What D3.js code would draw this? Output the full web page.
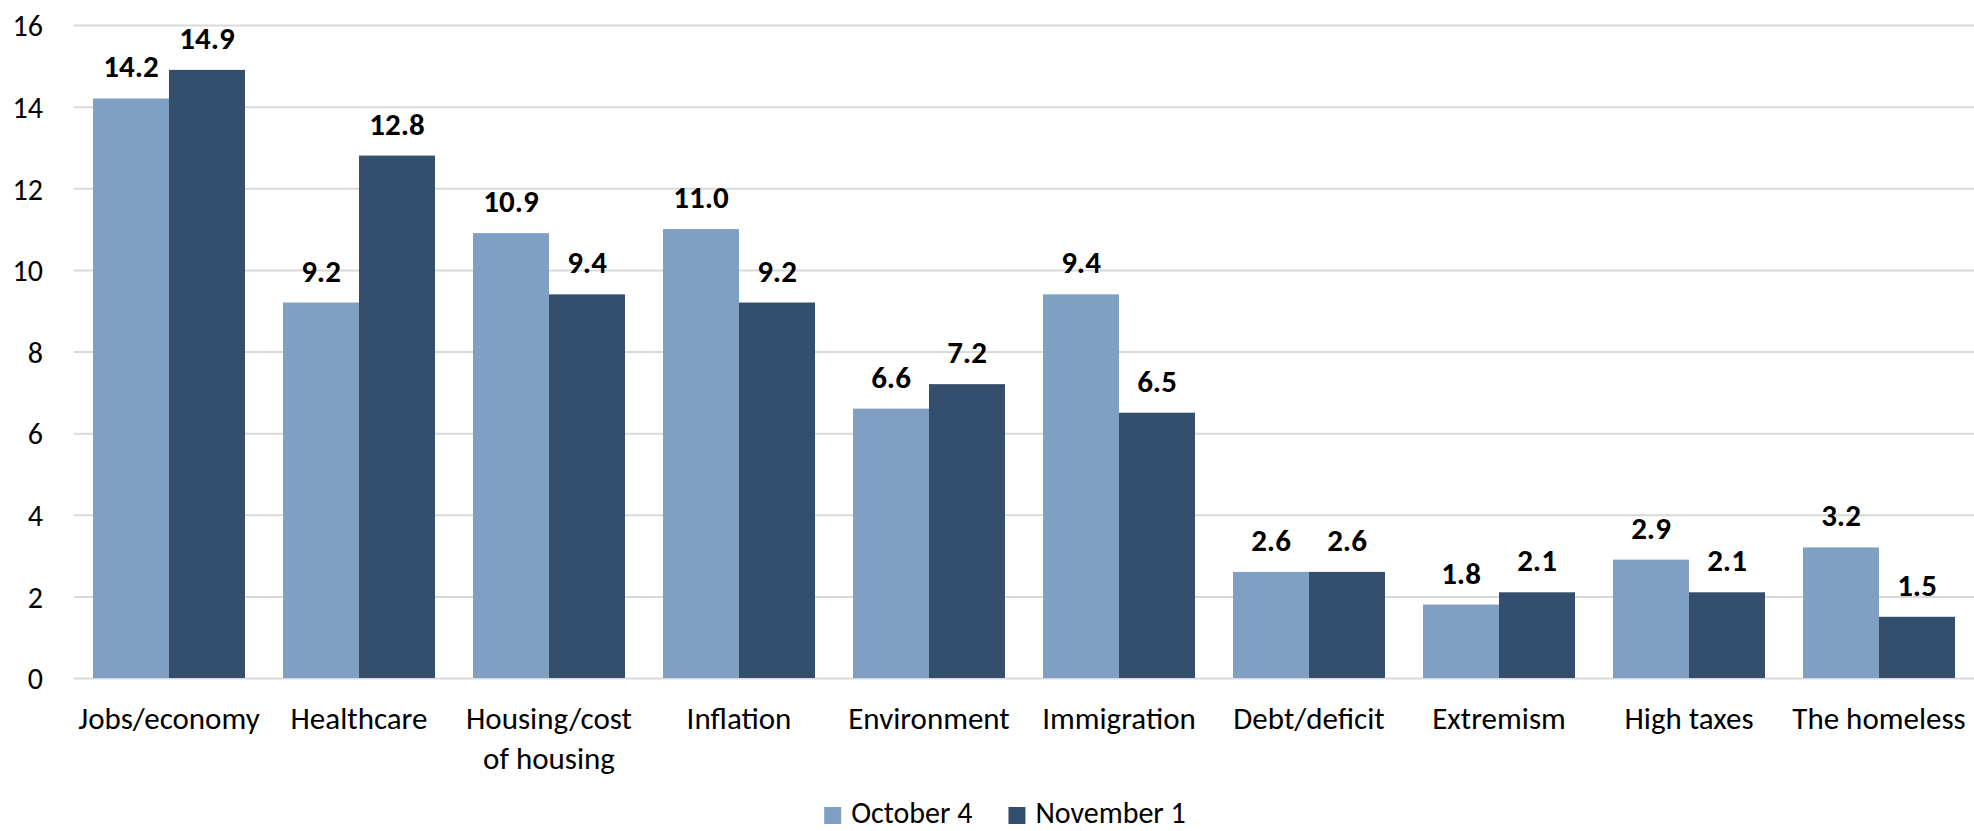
<!DOCTYPE html>
<html>
<head>
<meta charset="utf-8">
<script src="https://cdn.jsdelivr.net/npm/d3@7"></script>
<style>
  html, body { margin: 0; padding: 0; background: #fff; }
  svg text { font-family: Carlito, Calibri, Lato, sans-serif; }
</style>
</head>
<body>
<svg id="chart" width="1974" height="831"></svg>
<script>
// data
var categories = ['Jobs/economy', 'Healthcare', 'Housing/cost of housing', 'Inflation',
  'Environment', 'Immigration', 'Debt/deficit', 'Extremism', 'High taxes', 'The homeless'];
var seriesNames = ['October 4', 'November 1'];
var october4 = [14.2, 9.2, 10.9, 11.0, 6.6, 9.4, 2.6, 1.8, 2.9, 3.2];
var november1 = [14.9, 12.8, 9.4, 9.2, 7.2, 6.5, 2.6, 2.1, 2.1, 1.5];
var yTicks = [0, 2, 4, 6, 8, 10, 12, 14, 16];
var colors = ['#7f9fc3', '#344f6d'];

var width = 1974, height = 831,
  margin = { left: 74, right: 0, top: 25, bottom: 153 };

var svg = d3.select('#chart');

var x = d3.scaleBand()
  .domain(categories)
  .range([margin.left, width - margin.right])
  .paddingInner(0.2)
  .paddingOuter(0.1);

var xInner = d3.scaleBand()
  .domain(seriesNames)
  .range([0, x.bandwidth()]);

var y = d3.scaleLinear()
  .domain([0, 16])
  .range([height - margin.bottom, margin.top]);

var rows = categories.map(function (c, i) {
  return { cat: c, values: [october4[i], november1[i]] };
});

// Gridlines + y labels -------------------- //
var yAxis = d3.axisLeft(y)
  .tickValues(yTicks)
  .tickSize(-(width - margin.left - margin.right))
  .tickPadding(31)
  .tickFormat(d3.format('d'));

var gy = svg.append('g')
  .attr('transform', 'translate(' + margin.left + ',0)')
  .call(yAxis);
gy.select('.domain').remove();
gy.selectAll('.tick line')
  .attr('stroke', '#d9d9d9')
  .attr('stroke-width', 2);
gy.selectAll('.tick text')
  .attr('fill', '#000')
  .style('font-size', '30px')
  .attr('dy', '0.36em');

// Bars -------------------- //
var group = svg.selectAll('g.cat')
  .data(rows)
  .enter()
  .append('g')
  .attr('class', 'cat')
  .attr('transform', function (d) { return 'translate(' + x(d.cat) + ',0)'; });

group.selectAll('rect')
  .data(function (d) {
    return d.values.map(function (v, j) { return { name: seriesNames[j], value: v, j: j }; });
  })
  .enter()
  .append('rect')
  .attr('x', function (d) { return xInner(d.name); })
  .attr('width', xInner.bandwidth())
  .attr('y', function (d) { return y(d.value); })
  .attr('height', function (d) { return y(0) - y(d.value); })
  .attr('fill', function (d) { return colors[d.j]; });

// Value labels -------------------- //
group.selectAll('text.val')
  .data(function (d) {
    return d.values.map(function (v, j) { return { name: seriesNames[j], value: v }; });
  })
  .enter()
  .append('text')
  .attr('class', 'val')
  .attr('x', function (d) { return xInner(d.name) + xInner.bandwidth() / 2; })
  .attr('y', function (d) { return y(d.value) - 21; })
  .attr('text-anchor', 'middle')
  .style('font-size', '31px')
  .style('font-weight', 'bold')
  .attr('fill', '#000')
  .text(function (d) { return d.value.toFixed(1); });

// Category labels (wrapped) -------------------- //
var catText = svg.selectAll('text.cat')
  .data(categories)
  .enter()
  .append('text')
  .attr('class', 'cat')
  .attr('text-anchor', 'middle')
  .attr('fill', '#000')
  .style('font-size', '31px')
  .attr('x', function (d) { return x(d) + x.bandwidth() / 2; })
  .attr('y', 729);

catText.each(function (d) {
  var t = d3.select(this),
    words = d.split(' '),
    line = [],
    tspan = t.append('tspan').attr('x', t.attr('x')).attr('dy', 0);
  words.forEach(function (w) {
    line.push(w);
    tspan.text(line.join(' '));
    if (tspan.node().getComputedTextLength() > 180 && line.length > 1) {
      line.pop();
      tspan.text(line.join(' '));
      line = [w];
      tspan = t.append('tspan').attr('x', t.attr('x')).attr('dy', 40).text(w);
    }
  });
});

// Legend -------------------- //
var legend = svg.append('g');
var items = legend.selectAll('g')
  .data(seriesNames)
  .enter()
  .append('g');
items.append('rect')
  .attr('width', 17)
  .attr('height', 17)
  .attr('y', 807)
  .attr('fill', function (d, i) { return colors[i]; });
items.append('text')
  .attr('x', 27)
  .attr('y', 823)
  .style('font-size', '30px')
  .attr('fill', '#000')
  .text(function (d) { return d; });

var offset = 0;
items.each(function () {
  var g = d3.select(this);
  g.attr('transform', 'translate(' + offset + ',0)');
  offset += 27 + g.select('text').node().getComputedTextLength() + 36;
});
var legendWidth = offset - 36;
legend.attr('transform', 'translate(' + (1005 - legendWidth / 2) + ',0)');
</script>
</body>
</html>
